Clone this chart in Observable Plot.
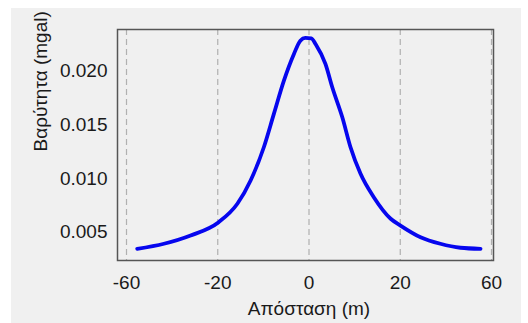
<!DOCTYPE html>
<html>
<head>
<meta charset="utf-8">
<script src="https://cdn.jsdelivr.net/npm/d3@7"></script>
<script src="https://cdn.jsdelivr.net/npm/@observablehq/plot@0.6"></script>
<style>
  html, body { margin: 0; padding: 0; background: #ffffff; }
  #wrap { position: relative; width: 528px; height: 323px; overflow: hidden; }
  #bg { position: absolute; left: 11px; top: 8px; width: 510px; height: 315px; background: #f0f0f0; }
  #chart { position: absolute; left: 0; top: 0; }
</style>
</head>
<body>
<div id="wrap"><div id="bg"></div><div id="chart"></div></div>
<script>
const xTicks = [-60, -20, 0, 20, 60];
const yTicks = [0.005, 0.010, 0.015, 0.020];
const distance = [-55.3, -43.6, -31.9, -19.8, -15.7, -12.8, -9.9, -7.7, -5.5, -3.3, -1.9, -0.8, 0.5, 1.5, 3.6, 5.1, 7.3, 9.1, 11.3, 14.2, 17.9, 20.1, 28.9, 37.6, 46.4, 55.2];
const gravity = [0.00345, 0.00392, 0.00469, 0.00593, 0.00765, 0.00982, 0.01292, 0.01603, 0.01913, 0.02162, 0.02286, 0.02312, 0.02308, 0.02250, 0.02069, 0.01851, 0.01571, 0.01292, 0.01044, 0.00826, 0.00625, 0.00562, 0.00453, 0.00392, 0.00355, 0.00345];
const xLabel = "Απόσταση (m)";
const yLabel = "Βαρύτητα (mgal)";

const data = distance.map((d, i) => ({x: d, g: gravity[i]}));

// piecewise x scale: tick values evenly spaced across the plot
const W = 528, mL = 117, mR = 35, insL = 9, insR = 2;
const x0 = mL + insL, x1 = W - mR - insR;
const xRange = xTicks.map((_, i) => x0 + i * (x1 - x0) / (xTicks.length - 1));

const chart = Plot.plot({
  width: W,
  height: 323,
  marginLeft: mL,
  marginRight: mR,
  marginTop: 29,
  marginBottom: 63,
  style: {background: "transparent", fontFamily: "Liberation Sans, Arial, sans-serif", fontSize: "19px", color: "#1a1a1a"},
  x: {type: "linear", domain: xTicks, range: xRange},
  y: {domain: [0.00236, 0.0239]},
  marks: [
    Plot.gridX(xTicks, {stroke: "#b0b0b0", strokeOpacity: 1, strokeDasharray: "6,4", strokeWidth: 1.2}),
    Plot.frame({stroke: "#555", strokeWidth: 1.5}),
    Plot.axisX(xTicks, {tickSize: 0, tickPadding: 15, label: null, tickFormat: d => String(d).replace("−", "-")}),
    Plot.axisY(yTicks, {tickSize: 0, tickPadding: 10, label: null, tickFormat: d => d.toFixed(3)}),
    Plot.line(data, {x: "x", y: "g", stroke: "#0606ee", strokeWidth: 3.8, curve: "monotone-x"}),
    Plot.text([xLabel], {frameAnchor: "bottom", text: d => d, dx: 3.5, dy: 48, lineAnchor: "middle", fill: "#1a1a1a"}),
    Plot.text([yLabel], {frameAnchor: "left", text: d => d, rotate: -90, dx: -77, dy: 6.5, lineAnchor: "middle", fill: "#1a1a1a"})
  ]
});
document.getElementById("chart").appendChild(chart);
</script>
</body>
</html>
